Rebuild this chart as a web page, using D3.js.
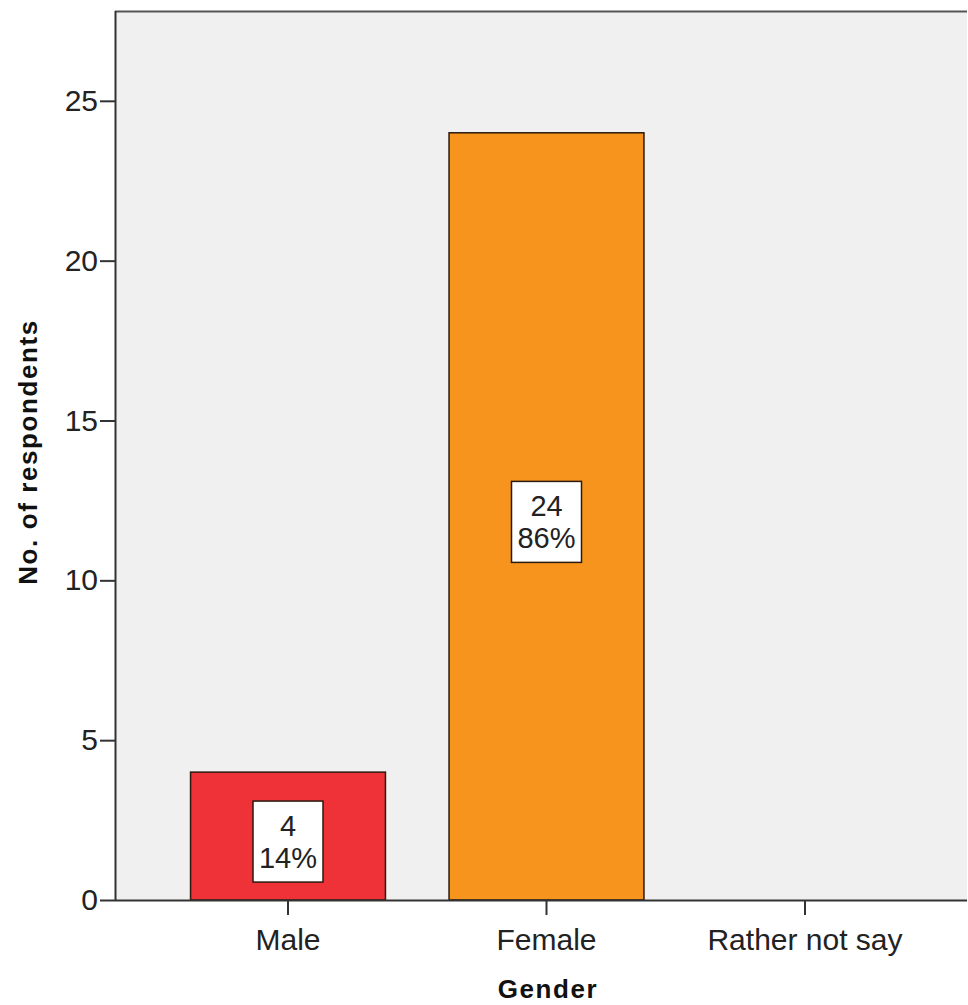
<!DOCTYPE html>
<html><head><meta charset="utf-8">
<script src="https://cdn.jsdelivr.net/npm/d3@7"></script>
<style>body{margin:0;background:#fff;} svg{display:block;font-family:"Liberation Sans",Arial,sans-serif;}</style>
</head><body>
<script>
const categories = ["Male", "Female", "Rather not say"];
const counts = [4, 24, 0];
const percents = ["14%", "86%", ""];
const barColors = ["#EE3237", "#F7941E", "#999999"];
const yTicks = [0, 5, 10, 15, 20, 25];

const W = 968, H = 1005;
const svg = d3.select("body").append("svg").attr("width", W).attr("height", H);
const plot = {left: 115, top: 11, right: 967, bottom: 900};

const y = d3.scaleLinear().domain([0, 27.81]).range([plot.bottom, plot.top]);
const x = d3.scaleBand().domain(categories).range([158.75, 934.25]).paddingInner(0.246).paddingOuter(0.123);

svg.append("rect").attr("x", plot.left).attr("y", plot.top)
  .attr("width", plot.right - plot.left).attr("height", plot.bottom - plot.top)
  .attr("fill", "#F0F0F0");
svg.append("line").attr("x1", plot.left).attr("x2", plot.right).attr("y1", plot.top + 0.5).attr("y2", plot.top + 0.5)
  .attr("stroke", "#555").attr("stroke-width", 2);

// bars
svg.selectAll("rect.bar").data(categories.map((c, i) => ({c, v: counts[i], p: percents[i], col: barColors[i]})).filter(d => d.v > 0))
  .join("rect").attr("class", "bar")
  .attr("x", d => x(d.c)).attr("width", x.bandwidth())
  .attr("y", d => y(d.v)).attr("height", d => y(0) - y(d.v))
  .attr("fill", d => d.col).attr("stroke", "#2a1a10").attr("stroke-width", 1.5);

// labels
const lab = svg.selectAll("g.lab").data(categories.map((c, i) => ({c, v: counts[i], p: percents[i]})).filter(d => d.v > 0))
  .join("g").attr("class", "lab")
  .attr("transform", d => `translate(${x(d.c) + x.bandwidth() / 2},${y(d.v / 2) + 5})`);
lab.append("rect").attr("x", -35).attr("y", -40).attr("width", 70).attr("height", 81)
  .attr("fill", "#fff").attr("stroke", "#2a1a10").attr("stroke-width", 1.5);
lab.append("text").attr("text-anchor", "middle").attr("y", -5).attr("font-size", 29).attr("fill", "#222").text(d => d.v);
lab.append("text").attr("text-anchor", "middle").attr("y", 27).attr("font-size", 29).attr("fill", "#222").text(d => d.p);

// y axis
const yAxis = svg.append("g").attr("transform", `translate(${plot.left},0)`)
  .call(d3.axisLeft(y).tickValues(yTicks).tickSize(15).tickPadding(2));
yAxis.select(".domain").attr("d", `M0.5,${plot.top}V${plot.bottom}`).attr("stroke", "#333").attr("stroke-width", 2);
yAxis.selectAll(".tick line").attr("stroke", "#333").attr("stroke-width", 2);
yAxis.selectAll(".tick text").attr("font-size", 30).attr("fill", "#222").attr("font-family", "Liberation Sans, Arial, sans-serif");

// x axis
const xAxis = svg.append("g").attr("transform", `translate(0,${plot.bottom})`)
  .call(d3.axisBottom(x).tickSize(15).tickPadding(14));
xAxis.select(".domain").attr("d", `M${plot.left},0.5H${plot.right}`).attr("stroke", "#333").attr("stroke-width", 2);
xAxis.selectAll(".tick line").attr("stroke", "#333").attr("stroke-width", 2);
xAxis.selectAll(".tick text").attr("font-size", 30).attr("fill", "#222").attr("font-family", "Liberation Sans, Arial, sans-serif");

// axis titles
svg.append("text").attr("x", 548).attr("y", 998).attr("text-anchor", "middle")
  .attr("font-size", 26).attr("font-weight", "bold").attr("letter-spacing", 1.6).attr("fill", "#111").text("Gender");
svg.append("text").attr("transform", "translate(37,452) rotate(-90)").attr("text-anchor", "middle")
  .attr("font-size", 26).attr("font-weight", "bold").attr("letter-spacing", 1.6).attr("fill", "#111").text("No. of respondents");
</script>
</body></html>
